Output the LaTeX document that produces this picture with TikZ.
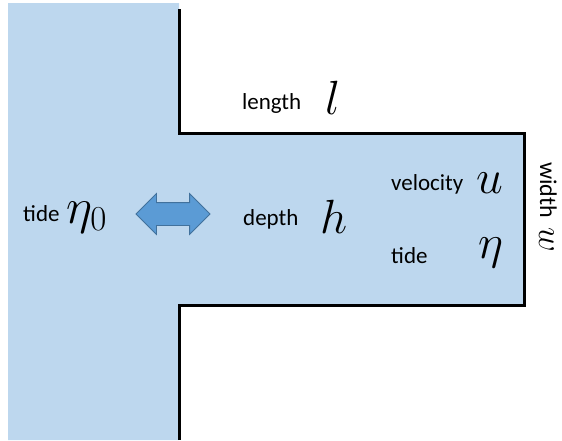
\RequirePackage{fix-cm}
\documentclass[tikz,border=0pt]{standalone}
\usepackage[no-math]{fontspec}
\setmainfont{Carlito}
\usetikzlibrary{shapes.arrows, positioning}
\definecolor{sea}{HTML}{BDD7EE}
\definecolor{flow}{HTML}{5B9BD5}
\definecolor{flowline}{HTML}{41719C}

\tikzset{
  lbl/.style={inner sep=0pt, anchor=base west, font=\fontsize{23}{25}\selectfont},
  sym/.style={inner sep=0pt, anchor=base west, font=\fontsize{48}{50}\selectfont},
  wall/.style={line width=3pt, line join=miter}
}

\begin{document}
\begin{tikzpicture}[x=1pt, y=-1pt]
\useasboundingbox (0,0) rectangle (562,440);
\fill[sea] (8,3) -- (179,3) -- (179,133) -- (524,133) -- (524,305) -- (179,305) -- (179,440) -- (8,440) -- cycle;
\draw[wall] (179,9) -- (179,133) -- (524,133) -- (524,305) -- (179,305) -- (179,440);

\node[double arrow, draw=flowline, fill=flow, line width=0.8pt, minimum height=74pt, inner xsep=0pt, inner ysep=11pt, double arrow head extend=9pt] (flux) at (173,214) {};

\node[lbl] (tideSea) at (23,221) {tide};
\node[sym, font=\fontsize{50}{52}\selectfont] (etaSea) at (66,223) {$\eta_0$};
\node[lbl] (lengthLbl) at (242,109) {length};
\node[sym] (ell) at (325,114) {$l$};
\node[lbl] (depthLbl) at (243,225) {depth};
\node[sym] (hh) at (320,233) {$h$};
\node[lbl] (velLbl) at (391,190) {velocity};
\node[sym] (uu) at (476,193) {$u$};
\node[lbl] (tideCh) at (391,263) {tide};
\node[sym] (eta) at (478,258) {$\eta$};
\node[lbl, rotate=-90, font=\fontsize{24}{26}\selectfont] (widthLbl) at (540,162) {width};
\node[sym, rotate=-90, font=\fontsize{34}{36}\selectfont] (ww) at (539,227) {$w$};
\end{tikzpicture}
\end{document}
